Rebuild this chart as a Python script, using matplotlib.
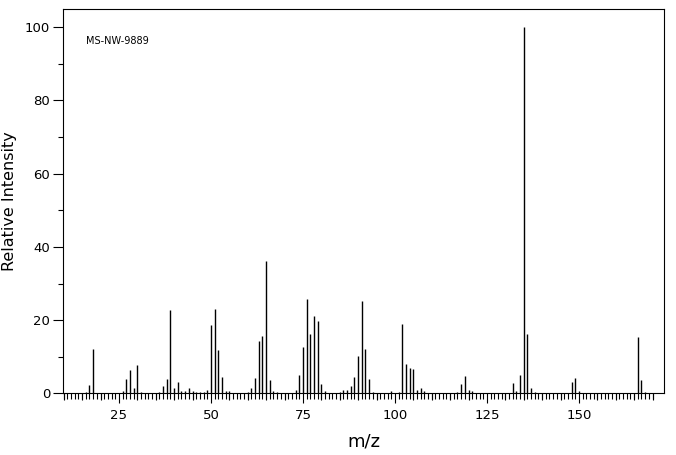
import matplotlib
matplotlib.use("Agg")
import matplotlib.pyplot as plt
import numpy as np

mz = [16, 17, 18, 26, 27, 28, 29, 30, 31, 36, 37, 38, 39, 40, 41, 42, 43, 44, 45, 46,
      47, 48, 49, 50, 51, 52, 53, 54, 55, 60, 61, 62, 63, 64, 65, 66, 67, 68, 73, 74,
      75, 76, 77, 78, 79, 80, 81, 85, 86, 87, 88, 89, 90, 91, 92, 93, 94, 99, 101, 102,
      103, 104, 105, 106, 107, 108, 117, 118, 119, 120, 121, 132, 133, 134, 135, 136,
      137, 138, 148, 149, 150, 166, 167, 168]
intensity = [0.4, 2.3, 12.1, 0.6, 3.9, 6.4, 1.5, 7.7, 0.4, 0.4, 2.0, 3.9, 22.8, 1.5, 3.1,
             0.5, 0.6, 1.5, 0.6, 0.4, 0.3, 0.4, 0.9, 18.7, 23.0, 11.8, 4.5, 0.6, 0.6, 0.4,
             1.5, 4.2, 14.3, 15.7, 36.2, 3.6, 0.6, 0.4, 0.9, 5.0, 12.7, 25.8, 16.2, 21.1,
             19.8, 2.5, 0.6, 0.4, 0.9, 0.9, 2.0, 4.5, 10.2, 25.2, 12.1, 3.9, 0.4, 0.5, 0.4,
             18.9, 8.0, 6.9, 6.6, 0.9, 1.5, 0.7, 0.4, 2.5, 4.7, 0.9, 0.6, 2.8, 0.7, 5.0,
             100.0, 16.3, 1.5, 0.4, 3.1, 4.2, 0.6, 15.4, 3.6, 0.4]

x_major = [25, 50, 75, 100, 125, 150]
y_major = [0, 20, 40, 60, 80, 100]
label_text = "MS-NW-9889"

fig = plt.figure(figsize=(6.76, 4.55), dpi=100)
ax = fig.add_axes([63/676, 1 - 393.3/455, (664.3 - 63)/676, (393.3 - 9)/455])

ax.vlines(mz, 0, intensity, colors="black", linewidth=1.0)

ax.set_xlim(9.8, 173.2)
ax.set_ylim(0, 105.0)

for s in ax.spines.values():
    s.set_linewidth(0.8)
    s.set_color("black")

ax.set_xticks(x_major)
ax.set_xticklabels([str(v) for v in x_major])
ax.set_xticks(np.arange(10, 171, 1), minor=True)
ax.set_yticks(y_major)
ax.set_yticklabels([str(v) for v in y_major])
ax.set_yticks(np.arange(10, 100, 20), minor=True)

ax.tick_params(axis="x", which="major", length=7.2, width=0.8, pad=4, labelsize=9.5)
ax.tick_params(axis="x", which="minor", length=4.1, width=0.8)
ax.tick_params(axis="y", which="major", length=7.2, width=0.8, pad=2, labelsize=9.5)
ax.tick_params(axis="y", which="minor", length=3.6, width=0.8)

# medium ticks every 5
sec = ax.secondary_xaxis("bottom")
mid = [v for v in range(10, 171, 5) if v % 25 != 0]
sec.set_xticks(mid)
sec.set_xticklabels([])
sec.tick_params(axis="x", which="major", length=5.3, width=0.8)
sec.tick_params(axis="x", which="minor", length=0)
sec.spines["bottom"].set_visible(False)

ax.set_xlabel("m/z", fontsize=13, labelpad=8)
ax.set_ylabel("Relative Intensity", fontsize=11.5, labelpad=6)

ax.text(0.038, 0.917, label_text, transform=ax.transAxes, fontsize=7,
        va="center", ha="left")

fig.savefig("out.png", dpi=100)
